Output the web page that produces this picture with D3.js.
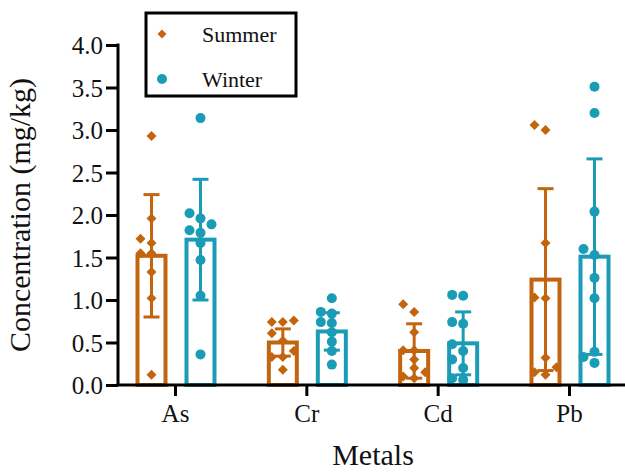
<!DOCTYPE html>
<html>
<head>
<meta charset="utf-8">
<script src="https://cdn.jsdelivr.net/npm/d3@7"></script>
<style>
  html, body { margin: 0; padding: 0; background: #fff; }
  svg { display: block; }
  text { font-family: "Liberation Serif", "Times New Roman", serif; fill: #111; }
</style>
</head>
<body>
<svg id="chart" width="625" height="472"></svg>
<script>
// ---- data ----
const categories = ["As", "Cr", "Cd", "Pb"];
const seriesNames = ["Summer", "Winter"];
const summerMean = [1.52, 0.50, 0.40, 1.24];
const summerSD   = [0.72, 0.16, 0.32, 1.07];
const winterMean = [1.71, 0.63, 0.49, 1.51];
const winterSD   = [0.71, 0.22, 0.37, 1.15];
const summerPoints = [
  [2.93, 1.96, 1.72, 1.67, 1.55, 1.55, 1.33, 1.02, 0.12],
  [0.76, 0.74, 0.74, 0.61, 0.52, 0.40, 0.33, 0.33, 0.18],
  [0.95, 0.86, 0.62, 0.41, 0.41, 0.30, 0.20, 0.15, 0.10, 0.08],
  [3.06, 3.00, 1.67, 1.03, 1.02, 0.32, 0.21, 0.15, 0.12]
];
const winterPoints = [
  [3.14, 2.02, 1.96, 1.89, 1.82, 1.79, 1.67, 1.47, 1.05, 0.36],
  [1.02, 0.86, 0.84, 0.74, 0.73, 0.62, 0.51, 0.40, 0.24],
  [1.06, 1.05, 0.74, 0.72, 0.48, 0.40, 0.30, 0.20, 0.08, 0.06],
  [3.51, 3.20, 2.04, 1.60, 1.53, 1.26, 1.02, 0.39, 0.33, 0.26]
];
const yTicks = [0, 0.5, 1.0, 1.5, 2.0, 2.5, 3.0, 3.5, 4.0];
const yTitle = "Concentration (mg/kg)";
const xTitle = "Metals";

// ---- styles ----
const colors = { Summer: "#c2650e", Winter: "#1a9cb6" };
const serif = "'Liberation Serif', 'Times New Roman', serif";

const svg = d3.select("#chart");
const x0 = 118, yBottom = 385, yTop = 45;

const y = d3.scaleLinear().domain([0, 4]).range([yBottom, yTop]);
const x = d3.scalePoint().domain(categories).range([x0, 626]).padding(0.434);
const xs = d3.scaleBand().domain(seriesNames).range([-48, 50]);

const series = [
  { name: "Summer", mean: summerMean, sd: summerSD, pts: summerPoints },
  { name: "Winter", mean: winterMean, sd: winterSD, pts: winterPoints }
];

const barW = 28;
const capW = 16;

function diamondPath(r) {
  return `M0,${-r}L${r},0L0,${r}L${-r},0Z`;
}

// beeswarm-like horizontal placement
function swarm(vals, r, step) {
  const placed = [];
  const sorted = vals.slice().sort((a, b) => a - b);
  sorted.forEach(v => {
    const py = y(v);
    for (let k = 0; k < 30; k++) {
      const cand = k === 0 ? 0 : (k % 2 ? -1 : 1) * Math.ceil(k / 2) * step;
      const ok = placed.every(p => Math.hypot(p.dx - cand, p.py - py) >= 2 * r - 1);
      if (ok) { placed.push({ v, dx: cand, py }); break; }
    }
  });
  return placed;
}

series.forEach(s => {
  const g = svg.append("g");
  categories.forEach((c, i) => {
    const cx = x(c) + xs(s.name) + xs.bandwidth() / 2;
    const col = colors[s.name];
    g.append("rect")
      .attr("x", cx - barW / 2)
      .attr("y", y(s.mean[i]))
      .attr("width", barW)
      .attr("height", y(0) - y(s.mean[i]))
      .attr("fill", "#fff")
      .attr("stroke", col)
      .attr("stroke-width", 4);
    const lo = y(Math.max(0, s.mean[i] - s.sd[i]));
    const hi = y(s.mean[i] + s.sd[i]);
    g.append("line").attr("x1", cx).attr("x2", cx).attr("y1", lo).attr("y2", hi)
      .attr("stroke", col).attr("stroke-width", 3);
    g.append("line").attr("x1", cx - capW / 2).attr("x2", cx + capW / 2).attr("y1", hi).attr("y2", hi)
      .attr("stroke", col).attr("stroke-width", 3);
    if (s.mean[i] - s.sd[i] > 0) {
      g.append("line").attr("x1", cx - capW / 2).attr("x2", cx + capW / 2).attr("y1", lo).attr("y2", lo)
        .attr("stroke", col).attr("stroke-width", 3);
    }
  });
});

series.forEach(s => {
  const g = svg.append("g");
  categories.forEach((c, i) => {
    const cx = x(c) + xs(s.name) + xs.bandwidth() / 2;
    const col = colors[s.name];
    const r = s.name === "Summer" ? 4.6 : 5;
    const placed = swarm(s.pts[i], r, 11);
    placed.forEach(p => {
      if (s.name === "Summer") {
        g.append("path").attr("d", diamondPath(r + 0.4))
          .attr("transform", `translate(${cx + p.dx},${p.py})`)
          .attr("fill", col);
      } else {
        g.append("circle").attr("cx", cx + p.dx).attr("cy", p.py).attr("r", r).attr("fill", col);
      }
    });
  });
});

// axes
const yAxis = d3.axisLeft(y).tickValues(yTicks).tickFormat(d3.format(".1f")).tickSize(12).tickPadding(3);
const gy = svg.append("g").attr("transform", `translate(${x0},0)`).call(yAxis)
  .attr("font-family", serif).attr("font-size", 25);
gy.select(".domain").attr("stroke", "#000").attr("stroke-width", 3).attr("d", `M0,${yTop - 1.5}V${yBottom}`);
gy.selectAll(".tick line").attr("stroke", "#000").attr("stroke-width", 3);
gy.selectAll(".tick text").attr("fill", "#111").attr("dy", "0.34em");

const xAxis = d3.axisBottom(x).tickSize(11).tickPadding(8);
const gx = svg.append("g").attr("transform", `translate(0,${yBottom})`).call(xAxis)
  .attr("font-family", serif).attr("font-size", 25);
gx.select(".domain").attr("stroke", "#000").attr("stroke-width", 3).attr("d", `M${x0 - 1.5},0H625`);
gx.selectAll(".tick line").attr("stroke", "#000").attr("stroke-width", 3);
gx.selectAll(".tick text").attr("fill", "#111");

// titles
svg.append("text")
  .attr("transform", `translate(30,${(yTop + yBottom) / 2}) rotate(-90)`)
  .attr("text-anchor", "middle")
  .style("font-size", "30px")
  .text(yTitle);
svg.append("text")
  .attr("x", 373).attr("y", 465)
  .attr("text-anchor", "middle")
  .style("font-size", "30px")
  .text(xTitle);

// legend
const lg = svg.append("g");
lg.append("rect").attr("x", 146).attr("y", 13).attr("width", 150).attr("height", 83)
  .attr("fill", "#fff").attr("stroke", "#000").attr("stroke-width", 3);
const legendRows = [
  { name: "Summer", cy: 34 },
  { name: "Winter", cy: 79 }
];
legendRows.forEach(row => {
  if (row.name === "Summer") {
    lg.append("path").attr("d", diamondPath(4.5)).attr("transform", `translate(162,${row.cy})`).attr("fill", colors.Summer);
  } else {
    lg.append("circle").attr("cx", 162).attr("cy", row.cy).attr("r", 5).attr("fill", colors.Winter);
  }
  lg.append("text").attr("x", 202).attr("y", row.cy).attr("dy", "0.35em")
    .style("font-size", "22px").text(row.name);
});
</script>
</body>
</html>
